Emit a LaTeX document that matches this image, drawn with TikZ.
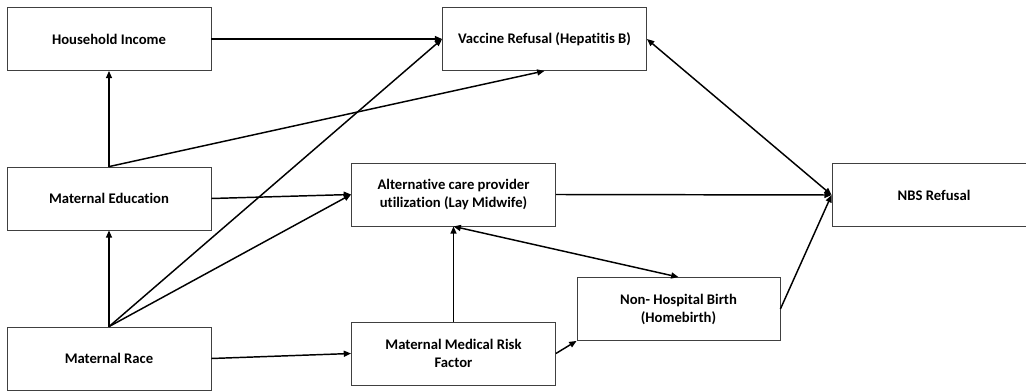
\documentclass[tikz,border=0pt]{standalone}
\usepackage{fontspec}
\setmainfont{Carlito}[Ligatures=NoCommon]
\usetikzlibrary{arrows.meta}

\begin{document}
\begin{tikzpicture}[
    x=0.75pt, y=-0.75pt,
    factor/.style={rectangle, draw=black!75, line width=0.6pt, inner sep=2pt,
      minimum width=153pt, minimum height=47.25pt, align=center,
      font=\fontsize{11}{13.5}\selectfont\bfseries},
    path/.style={draw=black, line width=1.1pt, -{Triangle[length=5.5pt,width=4.5pt]}},
    twoway/.style={draw=black, line width=1.1pt,
      {Triangle[length=5.5pt,width=4.5pt]}-{Triangle[length=5.5pt,width=4.5pt]}},
  ]
  \useasboundingbox (0,0) rectangle (1026,392);

  % ================= left column: background factors
  \node[factor] (income) at (109,39) {Household Income};
  \node[factor] (educ) at (109,198.5) {Maternal Education};
  \node[factor] (race) at (109,358.5) {Maternal Race};

  % ================= middle: intermediate factors
  \node[factor] (vaccine) at (544.5,39) {Vaccine Refusal (Hepatitis B)};
  \node[factor] (midwife) at (453.5,194.5) {Alternative care provider\\utilization (Lay Midwife)};
  \node[factor] (risk) at (453.5,353.5) {Maternal Medical Risk\\Factor};
  \node[factor, minimum width=152.25pt] (homebirth) at (678.5,309) {Non- Hospital Birth\\(Homebirth)};

  % ================= outcome
  \node[factor] (nbs) at (934,195) {NBS Refusal};

  % ================= paths
  \draw[path] (income.east) -- (vaccine.west);
  \draw[path] (educ.north) -- (income.south);
  \draw[path] (educ.north) -- (vaccine.south);
  \draw[path] (educ.east) -- (midwife.west);
  \draw[path] (race.north) -- (educ.south);
  \draw[path] (race.north) -- (vaccine.west);
  \draw[path] (race.north) -- (midwife.west);
  \draw[path] (race.east) -- (risk.west);
  \draw[path] (risk.north) -- (midwife.south);
  \draw[path] (risk.east) -- (homebirth.south west);
  \draw[twoway] (midwife.south) -- (homebirth.north);
  \draw[path] (midwife.east) -- (nbs.west);
  \draw[twoway] (vaccine.east) -- (nbs.west);
  \draw[path] (homebirth.east) -- (nbs.west);
\end{tikzpicture}
\end{document}
